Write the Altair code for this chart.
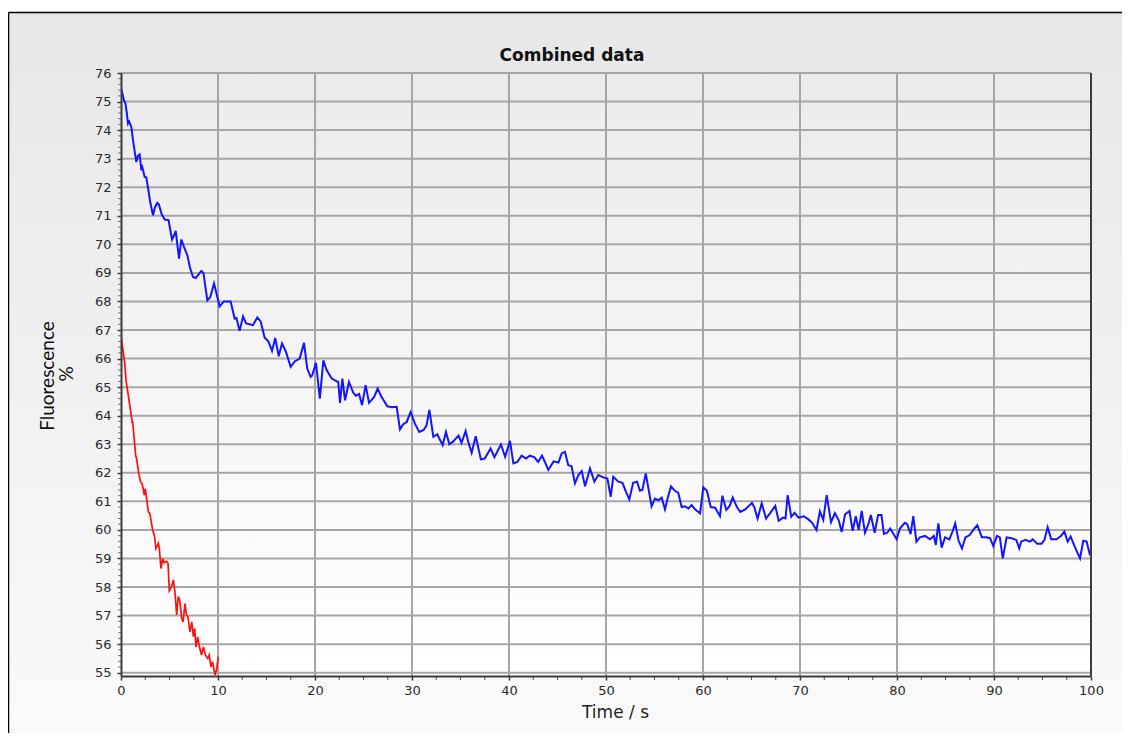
import altair as alt
import pandas as pd

# ---------------- data ----------------
blue_t = [0.0, 0.1, 0.3, 0.45, 0.6, 0.72, 0.84, 1.07, 1.3, 1.58, 1.75, 1.92, 2.1, 2.2, 2.44, 2.6, 2.78, 3.0, 3.3, 3.5,
          3.74, 3.9, 4.2, 4.5, 4.9, 5.26, 5.45, 5.64, 5.98, 6.22, 6.5, 6.84, 7.1, 7.42, 7.7, 8.0, 8.28, 8.5, 8.9, 9.2,
          9.59, 9.9, 10.17, 10.6, 11.3, 11.72, 11.9, 12.23, 12.58, 12.9, 13.6, 14.05, 14.4, 14.8, 15.2, 15.57, 15.9, 16.26, 16.6, 17.0,
          17.49, 17.9, 18.42, 18.87, 19.2, 19.55, 19.7, 20.1, 20.5, 20.86, 21.2, 21.72, 22.06, 22.4, 22.58, 22.82, 23.1, 23.5, 23.95, 24.2,
          24.55, 24.85, 25.22, 25.57, 26.1, 26.46, 26.85, 27.46, 27.9, 28.42, 28.76, 29.1, 29.45, 29.86, 30.3, 30.75, 31.2, 31.5, 31.79, 32.2,
          32.6, 33.16, 33.5, 33.85, 34.25, 34.8, 35.1, 35.53, 35.8, 36.15, 36.57, 37.1, 37.5, 38.1, 38.5, 39.17, 39.6, 40.1, 40.45, 40.85,
          41.3, 41.75, 42.15, 42.6, 43.0, 43.4, 43.7, 44.05, 44.6, 45.1, 45.43, 45.77, 46.1, 46.45, 46.8, 47.15, 47.5, 47.84, 48.35, 48.8,
          49.2, 49.72, 50.15, 50.48, 50.75, 51.27, 51.7, 52.05, 52.4, 52.8, 53.2, 53.5, 53.75, 54.1, 54.7, 55.05, 55.4, 55.74, 56.08, 56.35,
          56.7, 57.1, 57.45, 57.8, 58.14, 58.5, 58.83, 59.17, 59.7, 60.03, 60.4, 60.8, 61.25, 61.75, 62.0, 62.4, 62.75, 63.06, 63.5, 63.85,
          64.35, 65.05, 65.3, 65.63, 66.05, 66.5, 66.9, 67.45, 67.8, 68.25, 68.5, 68.73, 69.1, 69.44, 69.85, 70.4, 70.9, 71.25, 71.7, 72.05,
          72.4, 72.75, 73.2, 73.6, 74.0, 74.3, 74.65, 75.1, 75.43, 75.75, 76.05, 76.36, 76.7, 77.05, 77.3, 77.7, 78.05, 78.4, 78.65, 79.0,
          79.3, 79.97, 80.3, 80.8, 81.05, 81.4, 81.68, 82.0, 82.35, 82.9, 83.4, 83.8, 84.0, 84.26, 84.6, 84.95, 85.4, 85.75, 86.0, 86.35,
          86.7, 87.05, 87.5, 87.9, 88.28, 88.75, 89.2, 89.6, 89.93, 90.3, 90.6, 90.9, 91.3, 91.8, 92.3, 92.6, 92.8, 93.25, 93.7, 94.0,
          94.45, 94.9, 95.2, 95.53, 95.9, 96.45, 96.9, 97.25, 97.6, 97.9, 98.3, 98.87, 99.2, 99.55, 99.9]
blue_v = [75.45, 75.35, 75.05, 74.95, 74.6, 74.23, 74.3, 74.1, 73.5, 72.88, 73.1, 73.15, 72.6, 72.7, 72.36, 72.35, 72.0, 71.5, 71.02, 71.3,
          71.45, 71.4, 71.05, 70.87, 70.85, 70.17, 70.3, 70.47, 69.5, 70.17, 69.9, 69.62, 69.2, 68.86, 68.82, 68.95, 69.07, 69.0, 68.04, 68.15,
          68.63, 68.2, 67.83, 68.0, 68.0, 67.4, 67.42, 66.97, 67.48, 67.23, 67.17, 67.44, 67.3, 66.74, 66.6, 66.27, 66.72, 66.08, 66.53, 66.24,
          65.71, 65.9, 66.0, 66.55, 65.65, 65.36, 65.4, 65.85, 64.6, 65.94, 65.6, 65.3, 65.24, 65.18, 64.45, 65.3, 64.54, 65.18, 64.8, 64.7,
          64.76, 64.37, 65.07, 64.45, 64.66, 64.95, 64.66, 64.33, 64.3, 64.31, 63.52, 63.7, 63.78, 64.13, 63.72, 63.43, 63.5, 63.66, 64.2, 63.26,
          63.35, 62.97, 63.43, 63.0, 63.1, 63.3, 63.05, 63.46, 63.08, 62.7, 63.28, 62.47, 62.5, 62.85, 62.55, 62.99, 62.56, 63.12, 62.33, 62.38,
          62.6, 62.5, 62.6, 62.55, 62.38, 62.6, 62.38, 62.1, 62.4, 62.36, 62.68, 62.73, 62.27, 62.23, 61.63, 61.92, 62.06, 61.53, 62.15, 61.69,
          61.92, 61.84, 61.8, 61.16, 61.86, 61.69, 61.65, 61.34, 61.07, 61.65, 61.69, 61.37, 61.4, 61.98, 60.83, 61.1, 61.04, 61.13, 60.72, 61.1,
          61.53, 61.37, 61.3, 60.8, 60.83, 60.75, 60.87, 60.72, 60.58, 61.49, 61.37, 60.8, 60.78, 60.48, 61.2, 60.7, 60.84, 61.14, 60.8, 60.63,
          60.72, 60.95, 60.78, 60.4, 60.93, 60.4, 60.58, 60.84, 60.32, 60.43, 60.4, 61.22, 60.46, 60.6, 60.43, 60.48, 60.36, 60.25, 60.0, 60.65,
          60.35, 61.22, 60.27, 60.59, 60.33, 59.93, 60.55, 60.66, 59.97, 60.48, 60.0, 60.67, 59.9, 60.2, 60.52, 59.9, 60.52, 60.52, 59.86, 59.9,
          60.05, 59.67, 60.05, 60.25, 60.2, 59.85, 60.48, 59.59, 59.74, 59.79, 59.67, 59.79, 59.47, 60.23, 59.38, 59.74, 59.67, 59.97, 60.23, 59.62,
          59.35, 59.74, 59.82, 60.02, 60.17, 59.74, 59.74, 59.71, 59.43, 59.79, 59.74, 59.0, 59.74, 59.71, 59.65, 59.35, 59.59, 59.65, 59.59, 59.67,
          59.52, 59.52, 59.65, 60.09, 59.67, 59.67, 59.79, 59.94, 59.59, 59.77, 59.43, 59.0, 59.62, 59.59, 59.11]

red_t = [0.0, 0.38, 0.52, 0.93, 1.17, 1.2, 1.51, 1.6, 1.86, 2.0, 2.2, 2.4, 2.5, 2.82, 2.97, 3.27, 3.45, 3.6, 3.85, 3.95,
         4.12, 4.3, 4.43, 4.7, 4.85, 4.98, 5.2, 5.4, 5.55, 5.74, 5.9, 6.05, 6.26, 6.4, 6.6, 6.75, 6.9, 7.11, 7.3, 7.46,
         7.6, 7.73, 7.9, 8.05, 8.3, 8.5, 8.7, 8.95, 9.1, 9.28, 9.45, 9.69, 9.85, 10.03]
red_v = [66.8, 65.85, 65.24, 64.31, 63.73, 63.8, 62.62, 62.5, 61.92, 61.7, 61.6, 61.22, 61.45, 60.63, 60.58, 59.99, 59.8, 59.35, 59.53, 59.35,
         58.65, 59.0, 58.85, 58.9, 58.83, 57.87, 58.0, 58.25, 57.87, 57.02, 57.67, 57.55, 56.9, 56.78, 57.42, 57.02, 56.96, 56.43, 56.78, 56.26,
         56.55, 55.9, 56.25, 55.96, 55.62, 55.9, 55.62, 55.5, 55.62, 55.2, 55.38, 54.92, 55.1, 55.56]

x_ticks = list(range(0, 101, 10))
y_ticks = list(range(55, 77))
x_minor = [i * 2.5 for i in range(41) if i % 4 != 0]
y_minor = [round(55 + i * 0.2, 1) for i in range(106) if i % 5 != 0]

chart_title = "Combined data"
x_title = "Time / s"
y_title_1 = "Fluorescence"
y_title_2 = "%"

# ---------------- layout ----------------
W, H = 970, 603
xs = alt.Scale(domain=[0, 100], nice=False, zero=False)
ys = alt.Scale(domain=[54.885, 76], nice=False, zero=False)

AX = dict(domainColor="#3c3c3c", domainWidth=2, tickColor="#3c3c3c", tickWidth=1.5, tickSize=4,
          labelFont="DejaVu Sans", labelFontSize=13, labelColor="#2a2a2a", labelFlush=False,
          labelOverlap=False, grid=False, zindex=1)
xaxis = alt.Axis(values=x_ticks, title=x_title, labelPadding=4, titleFont="DejaVu Sans",
                 titleFontSize=17, titleFontWeight="normal", titleColor="#222222",
                 titleX=494, titleY=36, titleBaseline="middle", titleAlign="center", **AX)
yaxis = alt.Axis(values=y_ticks, title="", labelPadding=6, **AX)

blue = pd.DataFrame({"t": blue_t, "v": blue_v})
red = pd.DataFrame({"t": red_t, "v": red_v})
one = pd.DataFrame({"k": [0]})


def X(f):
    return alt.X(f, type="quantitative", scale=xs, axis=xaxis)


def Y(f):
    return alt.Y(f, type="quantitative", scale=ys, axis=yaxis)


frame_grad = {"gradient": "linear", "x1": 0, "x2": 0, "y1": 0, "y2": 1,
              "stops": [{"offset": 0, "color": "#e7e7e7"}, {"offset": 1, "color": "#fbfbfb"}]}
plot_grad = {"gradient": "linear", "x1": 0, "x2": 0, "y1": 0, "y2": 1,
             "stops": [{"offset": 0, "color": "#ebebeb"}, {"offset": 1, "color": "#ffffff"}]}

frame = alt.Chart(one).mark_rect(color=frame_grad).encode(
    x=alt.value(-112), x2=alt.value(1010), y=alt.value(-60), y2=alt.value(700))
plotbg = alt.Chart(one).mark_rect(color=plot_grad).encode(
    x=alt.value(0), x2=alt.value(W), y=alt.value(0), y2=alt.value(H))
border_top = alt.Chart(one).mark_rule(color="#000000", strokeWidth=1.5).encode(
    x=alt.value(-112.5), x2=alt.value(1010), y=alt.value(-60.5))
border_left = alt.Chart(one).mark_rule(color="#000000", strokeWidth=1.5).encode(
    x=alt.value(-112.5), y=alt.value(-60.5), y2=alt.value(700))

vgrid = alt.Chart(pd.DataFrame({"gx": x_ticks[1:]})).mark_rule(color="#a6a6a6", strokeWidth=2).encode(x=X("gx"))
hgrid = alt.Chart(pd.DataFrame({"gy": y_ticks})).mark_rule(color="#a6a6a6", strokeWidth=2).encode(y=Y("gy"))

xminor = alt.Chart(pd.DataFrame({"mx": x_minor})).mark_rule(color="#555555", strokeWidth=1).encode(
    x=X("mx"), y=alt.value(H), y2=alt.value(H + 4))
yminor = alt.Chart(pd.DataFrame({"my": y_minor})).mark_rule(color="#777777", strokeWidth=1).encode(
    y=Y("my"), x=alt.value(-3), x2=alt.value(0))

right_border = alt.Chart(one).mark_rule(color="#3c3c3c", strokeWidth=2).encode(
    x=alt.value(W), y=alt.value(0), y2=alt.value(H))

blue_line = alt.Chart(blue).mark_line(color="#1414ff", strokeWidth=2, clip=True).encode(x=X("t"), y=Y("v"))
red_line = alt.Chart(red).mark_line(color="#ff1010", strokeWidth=1.7, clip=True).encode(x=X("t"), y=Y("v"))

title_txt = alt.Chart(one).mark_text(text=chart_title, font="DejaVu Sans", fontWeight="bold", fontSize=17,
                                     color="#111111", align="center", baseline="middle").encode(
    x=alt.value(451), y=alt.value(-17))
ytitle1 = alt.Chart(one).mark_text(text=y_title_1, font="Lato", fontSize=19, angle=270, color="#111111",
                                   align="center", baseline="middle").encode(x=alt.value(-73), y=alt.value(303))
ytitle2 = alt.Chart(one).mark_text(text=y_title_2, font="Lato", fontSize=19, angle=270, color="#111111",
                                   align="center", baseline="middle").encode(x=alt.value(-54), y=alt.value(301))

chart = alt.layer(
    frame, border_top, border_left, plotbg, vgrid, hgrid, blue_line, red_line,
    right_border, xminor, yminor, title_txt, ytitle1, ytitle2
).properties(
    width=W, height=H,
    autosize=alt.AutoSizeParams(type="none"),
    padding={"left": 113, "top": 65, "right": 31, "bottom": 57},
).configure_view(strokeWidth=0).configure(background="#ffffff")

chart.save("out.html", embed_options={"renderer": "svg", "actions": False})
